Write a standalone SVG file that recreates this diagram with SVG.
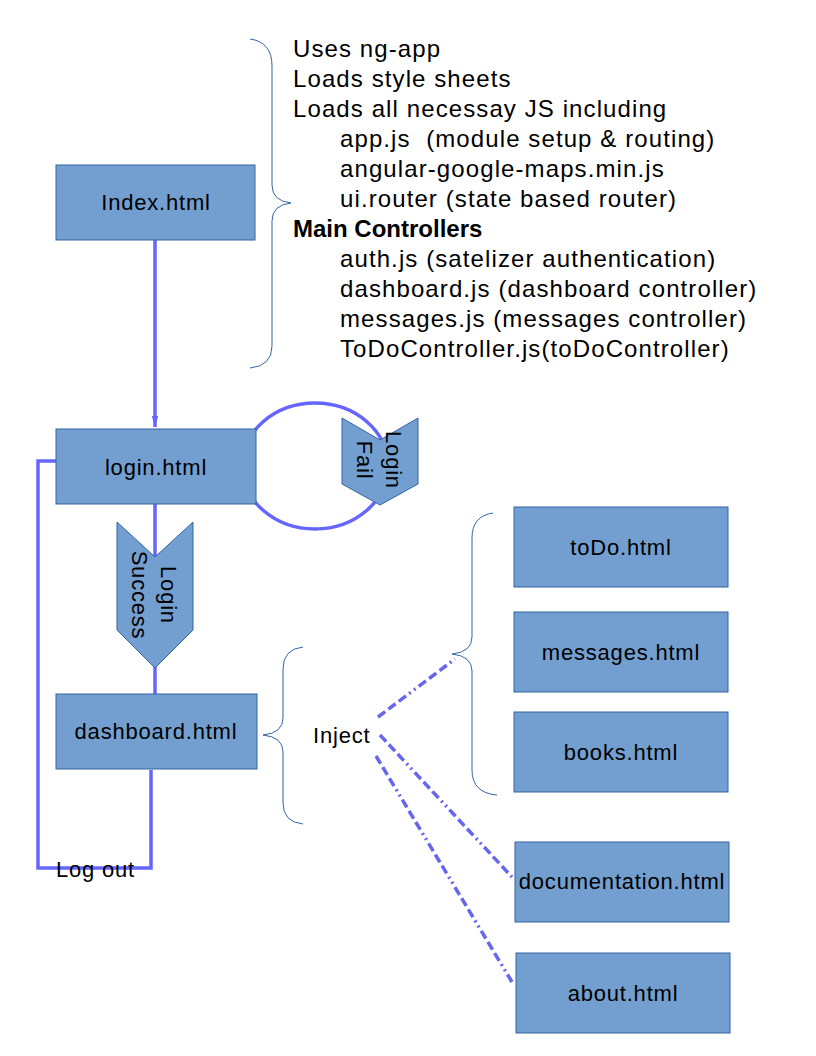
<svg xmlns="http://www.w3.org/2000/svg" width="816" height="1056" viewBox="0 0 816 1056">
<defs>
<style>
.box{fill:#729fcf;stroke:#3465a4;stroke-width:1}
.lbl{font-family:"Liberation Sans",Arial,sans-serif;font-size:22px;letter-spacing:0.8px;fill:#000}
.mid{text-anchor:middle}
.flow{fill:none;stroke:#6666ff;stroke-width:3.5}
.inj{fill:none;stroke:#6666ee;stroke-width:3.5;stroke-dasharray:9 4 9 4 9 4 2 4 2 4}
.brace{fill:none;stroke:#3465a4;stroke-width:1}
.note{font-family:"Liberation Sans",Arial,sans-serif;font-size:24px;letter-spacing:1.1px;fill:#000;white-space:pre}
.bold{font-weight:bold;letter-spacing:0}
</style>
<marker id="ah" markerUnits="userSpaceOnUse" markerWidth="12" markerHeight="20" refX="19" refY="6" orient="auto" viewBox="0 0 20 12">
<path d="M0,0.5 L19,6 L0,11.5 Z" fill="#6666ff"/>
</marker>
</defs>
<rect width="816" height="1056" fill="#ffffff"/>

<g id="connectors">
<path class="flow" d="M155,240 L155,427" marker-end="url(#ah)"/>
<ellipse class="flow" cx="315" cy="466" rx="73" ry="63"/>
<path class="flow" d="M155,504 L155,694"/>
<path class="flow" d="M60,461 L38,461 L38,868 L151,868 L151,770"/>
<path class="inj" d="M378,717 L455,659"/>
<path class="inj" d="M380,735 L512,877"/>
<path class="inj" d="M376,756 L512,982"/>
<text class="lbl" x="56" y="877">Log out</text>
</g>

<g id="index-notes">
<path class="brace" d="M250,39 Q272,42 272,66 L272,185 Q272,201 291,203 Q272,205 272,221 L272,346 Q272,366 250,368"/>
<text class="note" x="293" y="57">Uses ng-app</text>
<text class="note" x="293" y="87">Loads style sheets</text>
<text class="note" x="293" y="117">Loads all necessay JS including</text>
<text class="note" x="340" y="147" xml:space="preserve">app.js  (module setup &amp; routing)</text>
<text class="note" x="340" y="177">angular-google-maps.min.js</text>
<text class="note" x="340" y="207">ui.router (state based router)</text>
<text class="note bold" x="293" y="237">Main Controllers</text>
<text class="note" x="340" y="267">auth.js (satelizer authentication)</text>
<text class="note" x="340" y="297">dashboard.js (dashboard controller)</text>
<text class="note" x="340" y="327">messages.js (messages controller)</text>
<text class="note" x="340" y="357">ToDoController.js(toDoController)</text>
</g>

<g id="index">
<rect class="box" x="56" y="165" width="199" height="75"/>
<text class="lbl mid" x="156" y="210">Index.html</text>
</g>

<g id="login">
<rect class="box" x="56" y="429" width="200" height="75"/>
<text class="lbl mid" x="156" y="475">login.html</text>
</g>

<g id="login-fail">
<polygon class="box" points="342,418 380,440 418,418 418,484 380,505 342,484"/>
<text class="lbl mid" transform="translate(386,460) rotate(90)">Login</text>
<text class="lbl mid" transform="translate(357,460) rotate(90)">Fail</text>
</g>

<g id="login-success">
<polygon class="box" points="117,522 155,557 193,522 193,630 155,668 117,630"/>
<text class="lbl mid" transform="translate(161,595) rotate(90)">Login</text>
<text class="lbl mid" transform="translate(132,595) rotate(90)">Success</text>
</g>

<g id="dashboard">
<rect class="box" x="56" y="694" width="201" height="75"/>
<text class="lbl mid" x="156" y="739">dashboard.html</text>
</g>

<g id="inject">
<path class="brace" d="M303,647 Q283,649 283,669 L283,718 Q283,733 263,735 Q283,737 283,752 L283,803 Q283,822 303,824"/>
<text class="lbl" x="313" y="743">Inject</text>
</g>

<g id="group-brace">
<path class="brace" d="M493,513 Q472,516 472,538 L472,637 Q472,652 452,654 Q472,656 472,671 L472,770 Q472,793 497,795"/>
</g>

<g id="todo">
<rect class="box" x="514" y="507" width="214" height="80"/>
<text class="lbl mid" x="621" y="555">toDo.html</text>
</g>

<g id="messages">
<rect class="box" x="514" y="612" width="214" height="80"/>
<text class="lbl mid" x="621" y="660">messages.html</text>
</g>

<g id="books">
<rect class="box" x="514" y="712" width="214" height="80"/>
<text class="lbl mid" x="621" y="760">books.html</text>
</g>

<g id="documentation">
<rect class="box" x="515" y="842" width="214" height="80"/>
<text class="lbl mid" x="622" y="889">documentation.html</text>
</g>

<g id="about">
<rect class="box" x="516" y="953" width="214" height="80"/>
<text class="lbl mid" x="623" y="1001">about.html</text>
</g>
</svg>
